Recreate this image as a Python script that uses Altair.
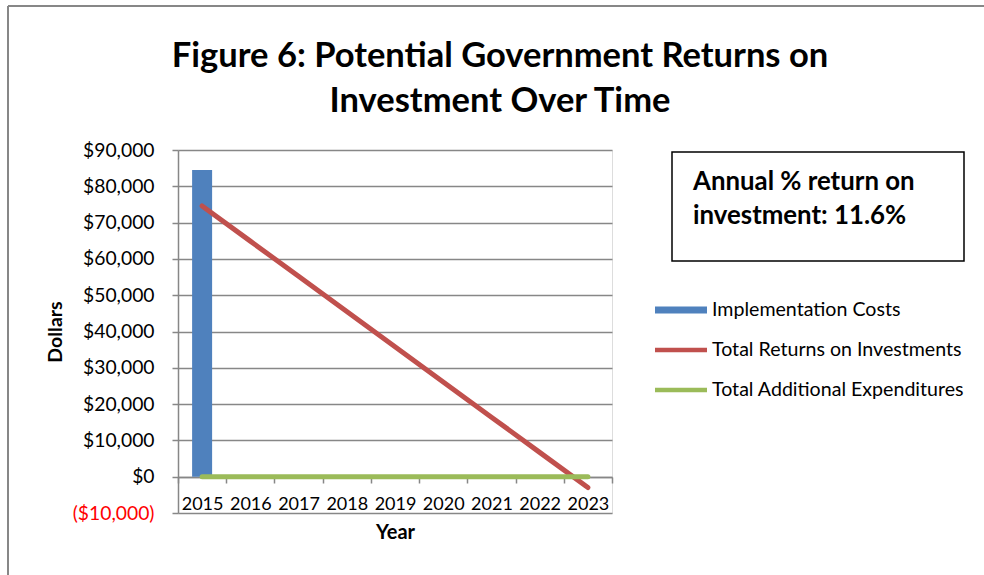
import altair as alt
import pandas as pd

# ---------------- data ----------------
years = ["2015", "2016", "2017", "2018", "2019", "2020", "2021", "2022", "2023"]
implementation_costs = [84500, 0, 0, 0, 0, 0, 0, 0, 0]
total_returns = [74600, 64900, 55200, 45500, 35800, 26100, 16400, 6700, -3000]
additional_expenditures = [0, 0, 0, 0, 0, 0, 0, 0, 0]

series_names = ["Implementation Costs", "Total Returns on Investments", "Total Additional Expenditures"]
series_colors = ["#4F81BD", "#C0504D", "#9BBB59"]
y_ticks = [-10000, 0, 10000, 20000, 30000, 40000, 50000, 60000, 70000, 80000, 90000]
title_lines = ["Figure 6: Potential Government Returns on", "Investment Over Time"]
note_lines = ["Annual % return on", "investment: 11.6%"]

df = pd.DataFrame({
    "Year": years,
    "Implementation Costs": implementation_costs,
    "Total Returns on Investments": total_returns,
    "Total Additional Expenditures": additional_expenditures,
})
legend_df = pd.DataFrame({"series": series_names})

# ---------------- style ----------------
W, H = 434, 363
FONT = "Lato"
GRID = "#878787"
legend_paths = [
    "M-2.6,-0.36H2.6V0.36H-2.6Z",
    "M-2.6,-0.22H2.6V0.22H-2.6Z",
    "M-2.6,-0.22H2.6V0.22H-2.6Z",
]

x_enc = alt.X(
    "Year:O",
    scale=alt.Scale(paddingInner=0, paddingOuter=0),
    axis=alt.Axis(
        title="Year", labelAngle=0, tickBand="extent", offset=-36,
        domainColor=GRID, domainWidth=1.5, tickColor=GRID, tickWidth=1.5, tickSize=6,
        labelFont=FONT, labelFontSize=18, labelColor="black", labelPadding=12,
        titleFont=FONT, titleFontSize=20, titleFontWeight="bold", titleColor="black",
        titlePadding=9, grid=False,
    ),
)

y_scale = alt.Scale(domain=[-10000, 90000], nice=False, zero=False)
y_axis = alt.Axis(
    title="Dollars", values=y_ticks,
    labelExpr="datum.value < 0 ? '($' + format(-datum.value, ',') + ')' : '$' + format(datum.value, ',')",
    labelColor={"condition": {"test": "datum.value < 0", "value": "#FF0000"}, "value": "black"},
    labelFont=FONT, labelFontSize=19.3, labelPadding=18,
    grid=True, gridColor=GRID, gridWidth=1.5,
    domainColor=GRID, domainWidth=1.5, tickColor=GRID, tickWidth=1.5, tickSize=6,
    titleFont=FONT, titleFontSize=19.5, titleFontWeight="bold", titleColor="black",
    titleX=-123, titleBaseline="middle",
)

base = alt.Chart(df)

bars = base.mark_bar(size=20, color=series_colors[0]).encode(
    x=x_enc,
    y=alt.Y("Implementation Costs:Q", scale=y_scale, axis=y_axis),
)

red_line = base.mark_line(color=series_colors[1], strokeWidth=5, strokeCap="round").encode(
    x=x_enc,
    y=alt.Y("Total Returns on Investments:Q", scale=y_scale, axis=y_axis),
)

green_line = base.mark_line(color=series_colors[2], strokeWidth=5, strokeCap="round").encode(
    x=x_enc,
    y=alt.Y("Total Additional Expenditures:Q", scale=y_scale, axis=y_axis),
)

leg = alt.Legend(
    title=None, orient="none", legendX=493, legendY=150, padding=0,
    labelFont=FONT, labelFontSize=19.6, labelColor="black", labelOffset=21, labelLimit=0,
    symbolSize=400, symbolStrokeWidth=0, symbolOpacity=1, rowPadding=20,
)
legend_layer = alt.Chart(legend_df).mark_point(filled=True, size=400, opacity=1).encode(
    color=alt.Color("series:N", scale=alt.Scale(domain=series_names, range=series_colors), legend=leg),
    shape=alt.Shape("series:N", scale=alt.Scale(domain=series_names, range=legend_paths), legend=leg),
).transform_filter("false")

one = alt.Chart(pd.DataFrame({"k": [0]}))

note_box = one.mark_rect(fill="white", stroke="black", strokeWidth=1.5).encode(
    x=alt.value(494), x2=alt.value(786), y=alt.value(2), y2=alt.value(111)
)
note_text = one.mark_text(
    align="left", baseline="middle", font=FONT, fontWeight="bold",
    fontSize=25.8, lineHeight=34, color="black"
).encode(x=alt.value(515), y=alt.value(32), text=alt.value(note_lines))

border_left = one.mark_rule(color="#878787", strokeWidth=2).encode(
    x=alt.value(-170), y=alt.value(-144), y2=alt.value(425)
)
border_top = one.mark_rule(color="#878787", strokeWidth=2).encode(
    x=alt.value(-170), x2=alt.value(806), y=alt.value(-144)
)

chart = alt.layer(
    border_left, border_top, bars, red_line, green_line, legend_layer, note_box, note_text
).properties(
    width=W, height=H,
    padding={"left": 178, "top": 150, "right": 372, "bottom": 62},
    autosize="none",
    title=alt.TitleParams(
        text=title_lines, font=FONT, fontSize=34.5, fontWeight="bold", color="black",
        anchor="middle", dx=105, lineHeight=45, offset=-114,
    ),
).configure_view(stroke=None).configure(background="white")

chart.save("out.html", embed_options={"renderer": "svg", "actions": False})
